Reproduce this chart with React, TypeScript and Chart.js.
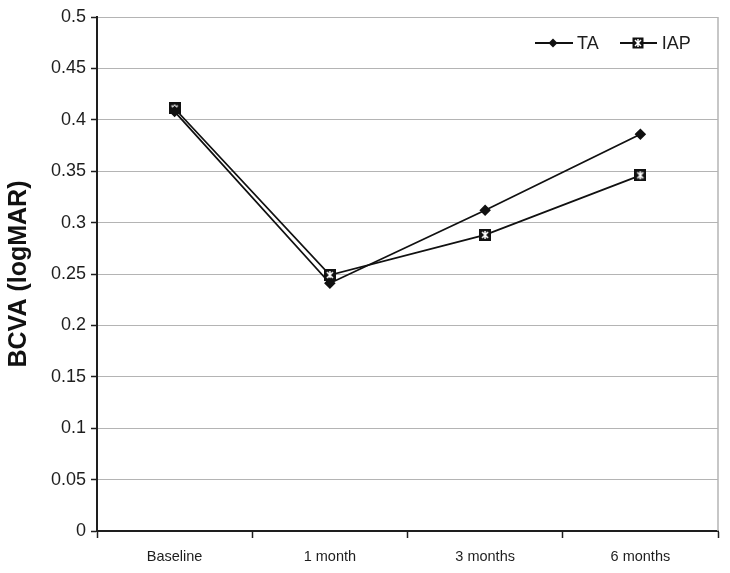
import { useEffect, useRef } from 'react';
import { Chart, registerables } from 'chart.js';

Chart.register(...registerables);

const categories = ['Baseline', '1 month', '3 months', '6 months'];
const taValues = [0.408, 0.241, 0.312, 0.386];
const iapValues = [0.411, 0.249, 0.288, 0.346];

const FONT = '"Liberation Sans", Arial, sans-serif';
const INK = '#1e1e1e';
const GRID = '#b4b4b4';

// black square with a white star, like the IAP marker
function makeIapMarker(): HTMLCanvasElement {
  const c = document.createElement('canvas');
  c.width = 12;
  c.height = 12;
  const g = c.getContext('2d')!;
  g.fillStyle = '#111';
  g.fillRect(0, 0, 12, 12);
  g.strokeStyle = '#fff';
  g.lineWidth = 1.6;
  g.beginPath();
  g.moveTo(3, 3); g.lineTo(9, 9);
  g.moveTo(9, 3); g.lineTo(3, 9);
  g.moveTo(6, 2); g.lineTo(6, 10);
  g.stroke();
  return c;
}

const rightBorder = {
  id: 'rightBorder',
  beforeDatasetsDraw(chart: Chart) {
    const { ctx, chartArea } = chart;
    ctx.save();
    ctx.strokeStyle = GRID;
    ctx.lineWidth = 1.5;
    ctx.beginPath();
    ctx.moveTo(chartArea.right, chartArea.top);
    ctx.lineTo(chartArea.right, chartArea.bottom);
    ctx.stroke();
    ctx.restore();
  },
};

export default function App() {
  const chartRef = useRef<HTMLCanvasElement>(null);
  const chartInstance = useRef<Chart | null>(null);

  useEffect(() => {
    document.body.style.margin = '0';
    if (!chartRef.current) return;
    if (chartInstance.current) chartInstance.current.destroy();

    const ctx = chartRef.current.getContext('2d');
    if (!ctx) return;

    chartInstance.current = new Chart(ctx, {
      type: 'line',
      data: {
        labels: categories,
        datasets: [
          {
            label: 'TA',
            data: taValues,
            borderColor: '#111',
            backgroundColor: '#111',
            borderWidth: 1.8,
            pointStyle: 'rectRot',
            pointRadius: 4.5,
            pointHoverRadius: 4.5,
            tension: 0,
          },
          {
            label: 'IAP',
            data: iapValues,
            borderColor: '#111',
            backgroundColor: '#111',
            borderWidth: 1.8,
            pointStyle: makeIapMarker(),
            tension: 0,
          },
        ],
      },
      options: {
        animation: false,
        responsive: true,
        maintainAspectRatio: false,
        layout: { padding: { left: 0, right: 12, top: 17, bottom: 0 } },
        plugins: {
          legend: { display: false },
          tooltip: { enabled: false },
        },
        scales: {
          x: {
            offset: true,
            grid: {
              offset: true,
              drawOnChartArea: false,
              drawTicks: true,
              tickLength: 7,
              tickColor: INK,
              tickWidth: 1.5,
            },
            border: { color: INK, width: 2 },
            ticks: {
              color: INK,
              font: { family: FONT, size: 14.5 },
              padding: 10,
              maxRotation: 0,
            },
            afterFit(scale: any) {
              scale.height = 42;
            },
          },
          y: {
            min: 0,
            max: 0.5,
            grid: {
              color: GRID,
              lineWidth: 1,
              tickLength: 6,
              tickColor: INK,
              tickWidth: 1.5,
            },
            border: { color: INK, width: 2 },
            ticks: {
              stepSize: 0.05,
              color: INK,
              font: { family: FONT, size: 18 },
              padding: 5,
              callback: (v: any) => String(Number(Number(v).toFixed(2))),
            },
            title: {
              display: true,
              text: 'BCVA (logMAR)',
              color: '#111',
              font: { family: FONT, size: 25, weight: 'bold' },
              padding: { top: 4, bottom: 0 },
            },
            afterFit(scale: any) {
              scale.width = 97;
            },
          },
        },
      },
      plugins: [rightBorder],
    });

    return () => {
      if (chartInstance.current) {
        chartInstance.current.destroy();
        chartInstance.current = null;
      }
    };
  }, []);

  const legendText: React.CSSProperties = {
    fontFamily: FONT,
    fontSize: 18,
    color: INK,
    lineHeight: '18px',
  };

  return (
    <div style={{ position: 'relative', width: 730, height: 573, background: 'white' }}>
      <canvas ref={chartRef} />
      <div style={{ position: 'absolute', left: 535, top: 34, display: 'flex', alignItems: 'center', height: 18 }}>
        <svg width={38} height={14} style={{ display: 'block' }}>
          <line x1={0} y1={7} x2={38} y2={7} stroke="#111" strokeWidth={1.8} />
          <polygon points="18,2.5 22.5,7 18,11.5 13.5,7" fill="#111" />
        </svg>
        <span style={{ ...legendText, marginLeft: 4 }}>TA</span>
        <svg width={37} height={14} style={{ display: 'block', marginLeft: 21 }}>
          <line x1={0} y1={7} x2={37} y2={7} stroke="#111" strokeWidth={1.8} />
          <rect x={12.5} y={1.5} width={11} height={11} fill="#111" />
          <path d="M15 4 L21 10 M21 4 L15 10 M18 3 L18 11" stroke="#fff" strokeWidth={1.5} />
        </svg>
        <span style={{ ...legendText, marginLeft: 5 }}>IAP</span>
      </div>
    </div>
  );
}
